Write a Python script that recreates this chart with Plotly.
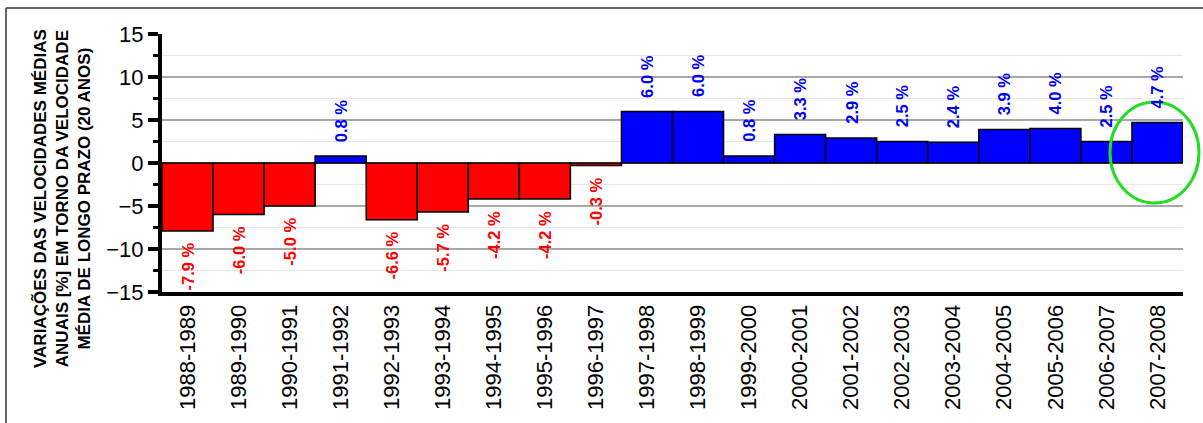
import plotly.graph_objects as go

periods = ["1988-1989", "1989-1990", "1990-1991", "1991-1992", "1992-1993",
           "1993-1994", "1994-1995", "1995-1996", "1996-1997", "1997-1998",
           "1998-1999", "1999-2000", "2000-2001", "2001-2002", "2002-2003",
           "2003-2004", "2004-2005", "2005-2006", "2006-2007", "2007-2008"]
variation = [-7.9, -6.0, -5.0, 0.8, -6.6, -5.7, -4.2, -4.2, -0.3, 6.0,
             6.0, 0.8, 3.3, 2.9, 2.5, 2.4, 3.9, 4.0, 2.5, 4.7]
y_ticks = [-15, -10, -5, 0, 5, 10, 15]
y_title = ("VARIAÇÕES DAS VELOCIDADES MÉDIAS<br>"
           "ANUAIS [%] EM TORNO DA VELOCIDADE<br>"
           "MÉDIA DE LONGO PRAZO (20 ANOS)")

POS, NEG = "#0000FF", "#FF0000"
colors = [POS if v >= 0 else NEG for v in variation]

fig = go.Figure(go.Bar(
    x=periods, y=variation,
    marker=dict(color=colors, line=dict(color="black", width=1.5)),
    hoverinfo="skip",
))

for p, v, c in zip(periods, variation, colors):
    fig.add_annotation(
        x=p, y=v, text=f"<b>{v:.1f} %</b>", showarrow=False, textangle=-90,
        font=dict(family="Arial, Liberation Sans", size=16.5, color=c),
        xanchor="center", yanchor="bottom" if v >= 0 else "top",
        yshift=12 if v >= 0 else -10,
    )

W, H = 1203, 423
L, R, T, B = 162, 20, 34, 131
pw, ph = W - L - R, H - T - B

def px(xp):
    return (xp - L) / pw

def py(yp):
    return 1 - (yp - T) / ph

fig.add_annotation(
    xref="paper", yref="paper", x=px(62), y=py(199), text=f"<b>{y_title}</b>",
    showarrow=False, textangle=-90, xanchor="center", yanchor="middle",
    font=dict(family="Arial, Liberation Sans", size=17, color="black"),
)

# outer frame (top and left edges visible)
fig.add_shape(type="line", xref="paper", yref="paper",
              x0=px(6), x1=px(W + 5), y0=py(8), y1=py(8),
              line=dict(color="#333333", width=1.5))
fig.add_shape(type="line", xref="paper", yref="paper",
              x0=px(6), x1=px(6), y0=py(8), y1=py(H + 5),
              line=dict(color="#333333", width=1.5))

# green highlight ellipse
fig.add_shape(type="circle", xref="paper", yref="paper",
              x0=px(1110), x1=px(1199), y0=py(203), y1=py(102),
              line=dict(color="#22DD22", width=3))

fig.update_layout(
    width=W, height=H,
    margin=dict(l=L, r=R, t=T, b=B, autoexpand=False),
    paper_bgcolor="white", plot_bgcolor="white",
    bargap=0, showlegend=False,
    font=dict(family="Arial, Liberation Sans", color="black"),
)
fig.update_xaxes(
    type="category", tickangle=-90, tickfont=dict(size=22, color="black"),
    showline=True, linecolor="black", linewidth=4, ticks="", showgrid=False,
    mirror=False, automargin=False,
)
fig.update_yaxes(
    range=[-15, 15], tickvals=y_ticks, tickfont=dict(size=22, color="black"),
    showline=True, linecolor="black", linewidth=4,
    ticks="outside", ticklen=10, tickwidth=4, tickcolor="black",
    showgrid=True, gridcolor="#A8A8A8", gridwidth=1.5, zeroline=False,
    automargin=False,
    minor=dict(dtick=2.5, ticks="outside", ticklen=5, tickwidth=3,
               tickcolor="black", showgrid=True, gridcolor="#E6E6E6",
               gridwidth=1.5),
)

fig.write_html(
    "out.html",
    config={"displayModeBar": False, "staticPlot": True},
    post_script="document.body.style.margin='0';document.body.style.overflow='hidden';",
)
